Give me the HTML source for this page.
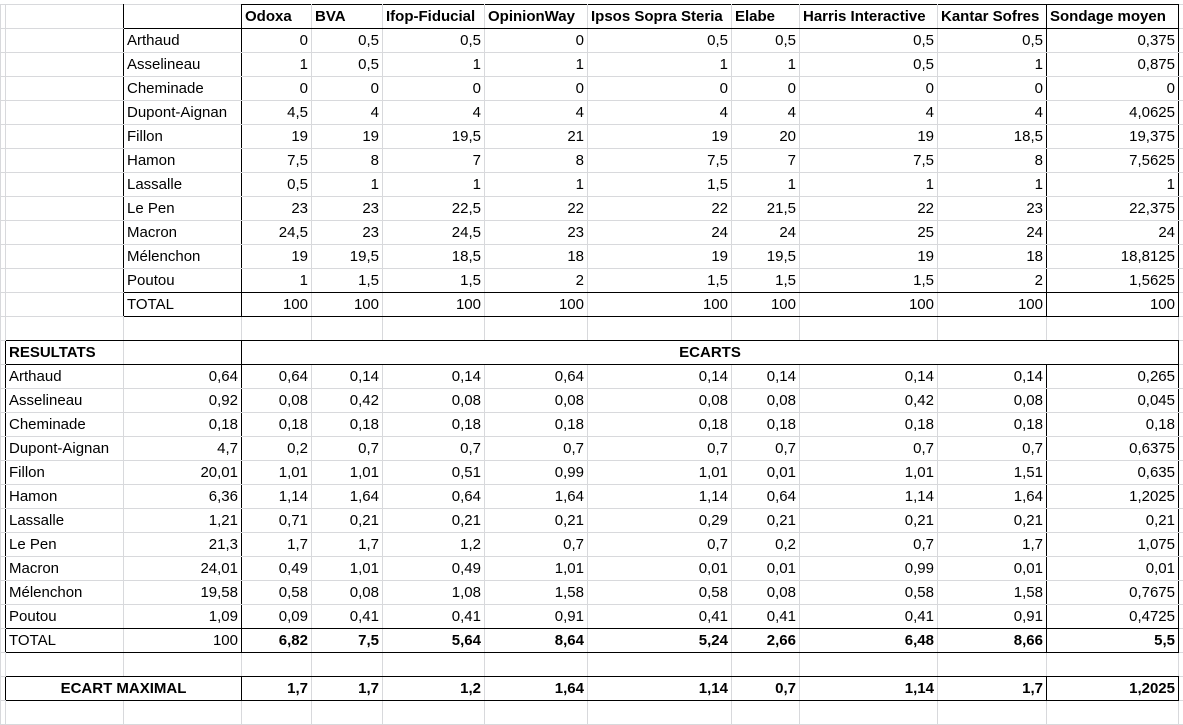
<!DOCTYPE html>
<html><head><meta charset="utf-8"><style>
html,body{margin:0;padding:0;background:#fff;width:1183px;height:706px;overflow:hidden}
table{position:absolute;left:0;top:4px;border-collapse:collapse;table-layout:fixed;width:1198px;font-family:"Liberation Sans",sans-serif;font-size:15px;color:#000}
td{border:1px solid #d8d9dc;height:23px;padding:0 3px;line-height:22px;white-space:nowrap;overflow:hidden;text-align:right}
td.n{text-align:left}
td.h{text-align:left;font-weight:bold}
td.c{text-align:center;font-weight:bold}
.bo{font-weight:bold}
.bl{border-left:1px solid #000}.br{border-right:1px solid #000}.bt{border-top:1px solid #000}.bb{border-bottom:1px solid #000}
tr{height:24px}
</style></head><body>
<table>
<colgroup><col style="width:5px"><col style="width:118px"><col style="width:118px"><col style="width:70px"><col style="width:71px"><col style="width:102px"><col style="width:103px"><col style="width:144px"><col style="width:68px"><col style="width:138px"><col style="width:109px"><col style="width:132px"><col style="width:20px"></colgroup>
<tr><td></td><td class="br"></td><td class="bb br"></td><td class="h bt bb bl">Odoxa</td><td class="h bt bb">BVA</td><td class="h bt bb">Ifop-Fiducial</td><td class="h bt bb">OpinionWay</td><td class="h bt bb">Ipsos Sopra Steria</td><td class="h bt bb">Elabe</td><td class="h bt bb">Harris Interactive</td><td class="h bt bb br">Kantar Sofres</td><td class="h bt bb bl br">Sondage moyen</td><td class="bl"></td></tr>
<tr><td></td><td class="br"></td><td class="n bl br bt">Arthaud</td><td class="bl bt">0</td><td class="bt">0,5</td><td class="bt">0,5</td><td class="bt">0</td><td class="bt">0,5</td><td class="bt">0,5</td><td class="bt">0,5</td><td class="bt br">0,5</td><td class="bt bl br">0,375</td><td class="bl"></td></tr>
<tr><td></td><td class="br"></td><td class="n bl br">Asselineau</td><td class="bl">1</td><td>0,5</td><td>1</td><td>1</td><td>1</td><td>1</td><td>0,5</td><td class="br">1</td><td class="bl br">0,875</td><td class="bl"></td></tr>
<tr><td></td><td class="br"></td><td class="n bl br">Cheminade</td><td class="bl">0</td><td>0</td><td>0</td><td>0</td><td>0</td><td>0</td><td>0</td><td class="br">0</td><td class="bl br">0</td><td class="bl"></td></tr>
<tr><td></td><td class="br"></td><td class="n bl br">Dupont-Aignan</td><td class="bl">4,5</td><td>4</td><td>4</td><td>4</td><td>4</td><td>4</td><td>4</td><td class="br">4</td><td class="bl br">4,0625</td><td class="bl"></td></tr>
<tr><td></td><td class="br"></td><td class="n bl br">Fillon</td><td class="bl">19</td><td>19</td><td>19,5</td><td>21</td><td>19</td><td>20</td><td>19</td><td class="br">18,5</td><td class="bl br">19,375</td><td class="bl"></td></tr>
<tr><td></td><td class="br"></td><td class="n bl br">Hamon</td><td class="bl">7,5</td><td>8</td><td>7</td><td>8</td><td>7,5</td><td>7</td><td>7,5</td><td class="br">8</td><td class="bl br">7,5625</td><td class="bl"></td></tr>
<tr><td></td><td class="br"></td><td class="n bl br">Lassalle</td><td class="bl">0,5</td><td>1</td><td>1</td><td>1</td><td>1,5</td><td>1</td><td>1</td><td class="br">1</td><td class="bl br">1</td><td class="bl"></td></tr>
<tr><td></td><td class="br"></td><td class="n bl br">Le Pen</td><td class="bl">23</td><td>23</td><td>22,5</td><td>22</td><td>22</td><td>21,5</td><td>22</td><td class="br">23</td><td class="bl br">22,375</td><td class="bl"></td></tr>
<tr><td></td><td class="br"></td><td class="n bl br">Macron</td><td class="bl">24,5</td><td>23</td><td>24,5</td><td>23</td><td>24</td><td>24</td><td>25</td><td class="br">24</td><td class="bl br">24</td><td class="bl"></td></tr>
<tr><td></td><td class="br"></td><td class="n bl br">Mélenchon</td><td class="bl">19</td><td>19,5</td><td>18,5</td><td>18</td><td>19</td><td>19,5</td><td>19</td><td class="br">18</td><td class="bl br">18,8125</td><td class="bl"></td></tr>
<tr><td></td><td class="br"></td><td class="n bl br bb">Poutou</td><td class="bl bb">1</td><td class="bb">1,5</td><td class="bb">1,5</td><td class="bb">2</td><td class="bb">1,5</td><td class="bb">1,5</td><td class="bb">1,5</td><td class="br bb">2</td><td class="bl br bb">1,5625</td><td class="bl"></td></tr>
<tr><td></td><td class="br"></td><td class="n bl br bt bb">TOTAL</td><td class="bl bt bb">100</td><td class="bt bb">100</td><td class="bt bb">100</td><td class="bt bb">100</td><td class="bt bb">100</td><td class="bt bb">100</td><td class="bt bb">100</td><td class="br bt bb">100</td><td class="bl br bt bb">100</td><td class="bl"></td></tr>
<tr><td></td><td class="bb"></td><td class="bt bb"></td><td class="bt bb"></td><td class="bt bb"></td><td class="bt bb"></td><td class="bt bb"></td><td class="bt bb"></td><td class="bt bb"></td><td class="bt bb"></td><td class="bt bb"></td><td class="bt bb"></td><td></td></tr>
<tr><td class="br"></td><td class="h bl bt bb">RESULTATS</td><td class="bt bb br"></td><td colspan="9" class="c bl br bt bb">ECARTS</td><td class="bl"></td></tr>
<tr><td class="br"></td><td class="n bl bt">Arthaud</td><td class="br bt">0,64</td><td class="bl bt">0,64</td><td class="bt">0,14</td><td class="bt">0,14</td><td class="bt">0,64</td><td class="bt">0,14</td><td class="bt">0,14</td><td class="bt">0,14</td><td class="bt br">0,14</td><td class="bt bl br">0,265</td><td class="bl"></td></tr>
<tr><td class="br"></td><td class="n bl">Asselineau</td><td class="br">0,92</td><td class="bl">0,08</td><td>0,42</td><td>0,08</td><td>0,08</td><td>0,08</td><td>0,08</td><td>0,42</td><td class="br">0,08</td><td class="bl br">0,045</td><td class="bl"></td></tr>
<tr><td class="br"></td><td class="n bl">Cheminade</td><td class="br">0,18</td><td class="bl">0,18</td><td>0,18</td><td>0,18</td><td>0,18</td><td>0,18</td><td>0,18</td><td>0,18</td><td class="br">0,18</td><td class="bl br">0,18</td><td class="bl"></td></tr>
<tr><td class="br"></td><td class="n bl">Dupont-Aignan</td><td class="br">4,7</td><td class="bl">0,2</td><td>0,7</td><td>0,7</td><td>0,7</td><td>0,7</td><td>0,7</td><td>0,7</td><td class="br">0,7</td><td class="bl br">0,6375</td><td class="bl"></td></tr>
<tr><td class="br"></td><td class="n bl">Fillon</td><td class="br">20,01</td><td class="bl">1,01</td><td>1,01</td><td>0,51</td><td>0,99</td><td>1,01</td><td>0,01</td><td>1,01</td><td class="br">1,51</td><td class="bl br">0,635</td><td class="bl"></td></tr>
<tr><td class="br"></td><td class="n bl">Hamon</td><td class="br">6,36</td><td class="bl">1,14</td><td>1,64</td><td>0,64</td><td>1,64</td><td>1,14</td><td>0,64</td><td>1,14</td><td class="br">1,64</td><td class="bl br">1,2025</td><td class="bl"></td></tr>
<tr><td class="br"></td><td class="n bl">Lassalle</td><td class="br">1,21</td><td class="bl">0,71</td><td>0,21</td><td>0,21</td><td>0,21</td><td>0,29</td><td>0,21</td><td>0,21</td><td class="br">0,21</td><td class="bl br">0,21</td><td class="bl"></td></tr>
<tr><td class="br"></td><td class="n bl">Le Pen</td><td class="br">21,3</td><td class="bl">1,7</td><td>1,7</td><td>1,2</td><td>0,7</td><td>0,7</td><td>0,2</td><td>0,7</td><td class="br">1,7</td><td class="bl br">1,075</td><td class="bl"></td></tr>
<tr><td class="br"></td><td class="n bl">Macron</td><td class="br">24,01</td><td class="bl">0,49</td><td>1,01</td><td>0,49</td><td>1,01</td><td>0,01</td><td>0,01</td><td>0,99</td><td class="br">0,01</td><td class="bl br">0,01</td><td class="bl"></td></tr>
<tr><td class="br"></td><td class="n bl">Mélenchon</td><td class="br">19,58</td><td class="bl">0,58</td><td>0,08</td><td>1,08</td><td>1,58</td><td>0,58</td><td>0,08</td><td>0,58</td><td class="br">1,58</td><td class="bl br">0,7675</td><td class="bl"></td></tr>
<tr><td class="br"></td><td class="n bl bb">Poutou</td><td class="br bb">1,09</td><td class="bl bb">0,09</td><td class="bb">0,41</td><td class="bb">0,41</td><td class="bb">0,91</td><td class="bb">0,41</td><td class="bb">0,41</td><td class="bb">0,41</td><td class="br bb">0,91</td><td class="bl br bb">0,4725</td><td class="bl"></td></tr>
<tr><td class="br"></td><td class="n bl bt bb">TOTAL</td><td class="br bt bb">100</td><td class="bo bl bt bb">6,82</td><td class="bo bt bb">7,5</td><td class="bo bt bb">5,64</td><td class="bo bt bb">8,64</td><td class="bo bt bb">5,24</td><td class="bo bt bb">2,66</td><td class="bo bt bb">6,48</td><td class="bo br bt bb">8,66</td><td class="bo bl br bt bb">5,5</td><td class="bl"></td></tr>
<tr><td></td><td class="bt bb"></td><td class="bt bb"></td><td class="bt bb"></td><td class="bt bb"></td><td class="bt bb"></td><td class="bt bb"></td><td class="bt bb"></td><td class="bt bb"></td><td class="bt bb"></td><td class="bt bb"></td><td class="bt bb"></td><td></td></tr>
<tr><td class="br"></td><td colspan="2" class="c bl br bt bb">ECART MAXIMAL</td><td class="bo bl bt bb">1,7</td><td class="bo bt bb">1,7</td><td class="bo bt bb">1,2</td><td class="bo bt bb">1,64</td><td class="bo bt bb">1,14</td><td class="bo bt bb">0,7</td><td class="bo bt bb">1,14</td><td class="bo br bt bb">1,7</td><td class="bo bl br bt bb">1,2025</td><td class="bl"></td></tr>
<tr><td></td><td class="bt"></td><td class="bt"></td><td class="bt"></td><td class="bt"></td><td class="bt"></td><td class="bt"></td><td class="bt"></td><td class="bt"></td><td class="bt"></td><td class="bt"></td><td class="bt"></td><td></td></tr>
</table>
</body></html>
